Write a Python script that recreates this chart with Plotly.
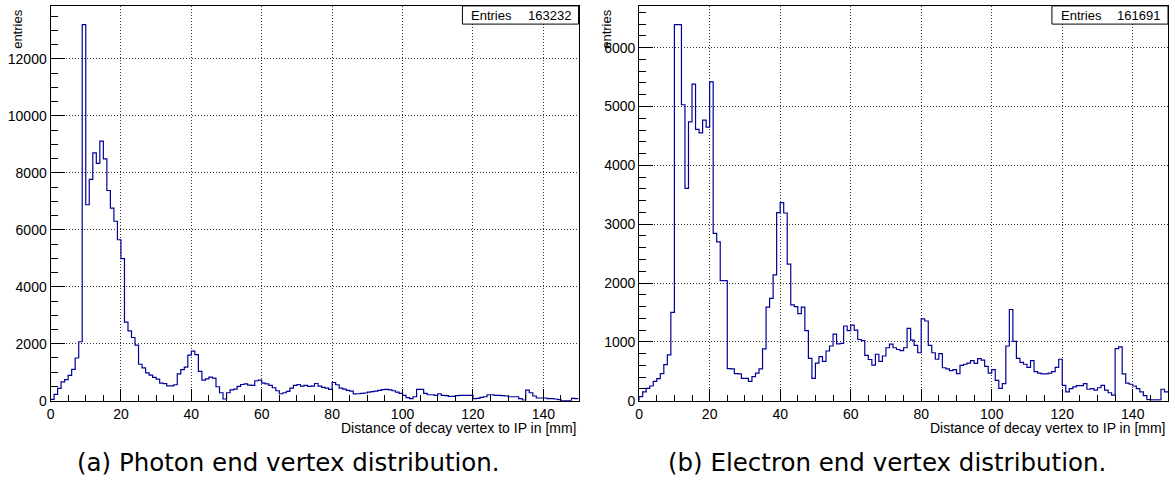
import numpy as np
import plotly.graph_objects as go

# 1 mm bins from 0 to 150 mm
bin_edges = np.arange(0, 151, 1)

photon_counts = [
    50, 220, 430, 660, 740, 890, 1100, 1500, 2070, 13200,
    6880, 7770, 8700, 8330, 9110, 8490, 7380, 6760, 6300, 5650,
    4990, 2760, 2450, 2220, 1950, 1280, 1150, 980, 900, 820,
    760, 620, 600, 520, 520, 560, 940, 1090, 1180, 1600,
    1740, 1620, 1030, 720, 770, 830, 790, 490, 280, 60,
    280, 380, 410, 500, 570, 590, 550, 535, 700, 720,
    620, 590, 535, 455, 350, 245, 280, 330, 440, 535,
    570, 515, 535, 500, 510, 605, 510, 465, 440, 400,
    640, 560, 440, 410, 360, 340, 240, 245, 260, 270,
    300, 320, 340, 360, 390, 400, 380, 350, 300, 260,
    190, 105, 75, 140, 400, 395, 255, 210, 210, 190,
    245, 190, 180, 155, 150, 180, 185, 185, 185, 190,
    75, 80, 120, 140, 210, 210, 190, 185, 180, 165,
    140, 140, 140, 75, 25, 375, 280, 165, 95, 95,
    95, 70, 70, 60, 35, 5, 5, 5, 80, 70,
]

electron_counts = [
    70, 150, 210, 250, 330, 375, 460, 615, 780, 1500,
    6390, 6390, 5030, 3610, 4740, 5380, 4610, 4550, 4770, 4650,
    5420, 2845, 2700, 2040, 2040, 545, 540, 460, 455, 380,
    380, 330, 410, 470, 540, 880, 1590, 1740, 2140, 3195,
    3365, 3190, 2320, 1630, 1600, 1480, 1590, 1190, 720, 380,
    640, 750, 670, 845, 930, 1130, 965, 975, 1270, 1190,
    1285, 1200, 1040, 1020, 770, 700, 605, 790, 670, 760,
    900, 960, 900, 870, 850, 900, 1230, 1030, 940, 815,
    1390, 1355, 940, 815, 705, 800, 560, 540, 510, 530,
    460, 600, 620, 640, 680, 635, 715, 690, 585, 470,
    530, 345, 210, 290, 930, 1550, 1010, 720, 650, 620,
    565, 680, 495, 470, 455, 455, 470, 495, 565, 705,
    260, 150, 205, 235, 255, 255, 290, 195, 205, 180,
    220, 260, 180, 135, 95, 885, 915, 455, 300, 280,
    250, 205, 150, 85, 20, 15, 15, 15, 195, 150,
]

photon_entries = "163232"
electron_entries = "161691"

x_title = "Distance of decay vertex to IP in [mm]"
y_title = "entries"
captions = ["(a) Photon end vertex distribution.",
            "(b) Electron end vertex distribution."]

W, H = 1175, 495
LINE_COLOR = "#000099"
ROOT_FONT = "Liberation Sans, Arial, sans-serif"


def fx(x):
    return x / W


def fy(y):
    return 1 - y / H


def step_trace(counts, xa, ya):
    # outline of the histogram: rise from zero at the left edge, then steps
    xs = [bin_edges[0]] + list(bin_edges)
    ys = [0] + list(counts) + [counts[-1]]
    return go.Scatter(
        x=xs, y=ys, mode="lines",
        line=dict(shape="hv", color=LINE_COLOR, width=1.2),
        xaxis=xa, yaxis=ya, showlegend=False, hoverinfo="skip",
    )


fig = go.Figure()
fig.add_trace(step_trace(photon_counts, "x", "y"))
fig.add_trace(step_trace(electron_counts, "x2", "y2"))

panels = [
    dict(left=46.7, right=576.5, ymax=max(photon_counts) * 1.05, ydt=2000, ymin_dt=500,
         entries=photon_entries, stat_left=460, caption_x=285, ylab_x=14),
    dict(left=637.3, right=1168, ymax=max(electron_counts) * 1.05, ydt=1000, ymin_dt=200,
         entries=electron_entries, stat_left=1051.5, caption_x=886, ylab_x=605),
]
top, bottom = 6, 407.3

common_axis = dict(
    showline=True, linecolor="black", linewidth=1, mirror=True,
    ticks="inside", tickcolor="black", ticklen=12, tickwidth=1,
    showgrid=True, gridcolor="#333333", griddash="1px,2px", gridwidth=1,
    zeroline=False, tickformat="d",
    tickfont=dict(family=ROOT_FONT, size=14, color="black"),
)

layout_axes = {}
annotations = []
shapes = []
for i, p in enumerate(panels):
    sfx = "" if i == 0 else str(i + 1)
    layout_axes["xaxis" + sfx] = dict(
        common_axis, domain=[fx(p["left"]), fx(p["right"])], range=[0, 150],
        dtick=20, tick0=0, anchor="y" + sfx,
        minor=dict(dtick=5, ticks="inside", ticklen=6, tickcolor="black", showgrid=False),
    )
    layout_axes["yaxis" + sfx] = dict(
        common_axis, domain=[fy(bottom), fy(top)], range=[0, p["ymax"]],
        dtick=p["ydt"], tick0=0, anchor="x" + sfx, ticklen=14,
        minor=dict(dtick=p["ymin_dt"], ticks="inside", ticklen=7, tickcolor="black", showgrid=False),
    )

    # statistics box
    shapes.append(dict(type="rect", xref="paper", yref="paper",
                       x0=fx(p["stat_left"]), x1=fx(p["right"]),
                       y0=fy(24.5), y1=fy(top), line=dict(color="black", width=1),
                       fillcolor="white", layer="above"))
    annotations.append(dict(text="Entries", xref="paper", yref="paper",
                            x=fx(p["stat_left"] + 7), y=fy(15.5), xanchor="left", yanchor="middle",
                            showarrow=False, font=dict(family=ROOT_FONT, size=13, color="black")))
    annotations.append(dict(text=p["entries"], xref="paper", yref="paper",
                            x=fx(p["right"] - 6), y=fy(15.5), xanchor="right", yanchor="middle",
                            showarrow=False, font=dict(family=ROOT_FONT, size=13, color="black")))

    # axis titles
    annotations.append(dict(text=x_title, xref="paper", yref="paper",
                            x=fx(p["right"]), y=fy(435), xanchor="right", yanchor="middle",
                            showarrow=False, font=dict(family=ROOT_FONT, size=14, color="black")))
    annotations.append(dict(text=y_title, xref="paper", yref="paper",
                            x=fx(p["ylab_x"]), y=fy(7), xanchor="center", yanchor="top",
                            textangle=-90, showarrow=False,
                            font=dict(family=ROOT_FONT, size=13, color="black")))

    # caption under each panel
    annotations.append(dict(text=captions[i], xref="paper", yref="paper",
                            x=fx(p["caption_x"]), y=fy(470), xanchor="center", yanchor="middle",
                            showarrow=False, font=dict(family="DejaVu Sans, sans-serif",
                                                       size=24.5, color="black")))

fig.update_layout(
    width=W, height=H,
    margin=dict(l=0, r=0, t=0, b=0),
    paper_bgcolor="white", plot_bgcolor="white",
    showlegend=False,
    annotations=annotations, shapes=shapes,
    **layout_axes,
)

fig.write_html("out.html")
